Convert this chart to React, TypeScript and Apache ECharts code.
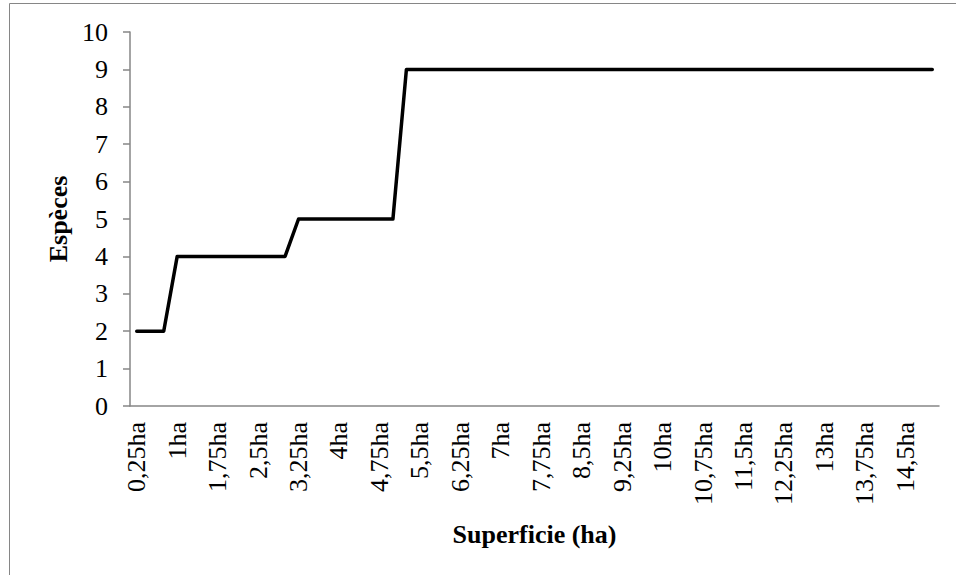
import React, { useEffect, useRef } from "react";
import * as echarts from "echarts";

const categories: string[] = [
  "0,25ha", "0,5ha", "0,75ha", "1ha", "1,25ha", "1,5ha", "1,75ha", "2ha", "2,25ha", "2,5ha",
  "2,75ha", "3ha", "3,25ha", "3,5ha", "3,75ha", "4ha", "4,25ha", "4,5ha", "4,75ha", "5ha",
  "5,25ha", "5,5ha", "5,75ha", "6ha", "6,25ha", "6,5ha", "6,75ha", "7ha", "7,25ha", "7,5ha",
  "7,75ha", "8ha", "8,25ha", "8,5ha", "8,75ha", "9ha", "9,25ha", "9,5ha", "9,75ha", "10ha",
  "10,25ha", "10,5ha", "10,75ha", "11ha", "11,25ha", "11,5ha", "11,75ha", "12ha", "12,25ha", "12,5ha",
  "12,75ha", "13ha", "13,25ha", "13,5ha", "13,75ha", "14ha", "14,25ha", "14,5ha", "14,75ha", "15ha",
];

const especes: number[] = [
  2, 2, 2, 4, 4, 4, 4, 4, 4, 4,
  4, 4, 5, 5, 5, 5, 5, 5, 5, 5,
  9, 9, 9, 9, 9, 9, 9, 9, 9, 9,
  9, 9, 9, 9, 9, 9, 9, 9, 9, 9,
  9, 9, 9, 9, 9, 9, 9, 9, 9, 9,
  9, 9, 9, 9, 9, 9, 9, 9, 9, 9,
];

const yTicks = { min: 0, max: 10, interval: 1 };

const FONT = "Times New Roman, Liberation Serif, serif";
const AXIS_GRAY = "#868686";

export default function App() {
  const ref = useRef<HTMLDivElement>(null);
  useEffect(() => {
    if (!ref.current) return;
    const chart = echarts.init(ref.current, null, { renderer: "svg" });
    chart.setOption({
      animation: false,
      backgroundColor: "#ffffff",
      textStyle: { fontFamily: FONT },
      graphic: [
        {
          type: "rect",
          shape: { x: 9.5, y: 3.5, width: 1000, height: 700 },
          style: { fill: "none", stroke: AXIS_GRAY, lineWidth: 1 },
          silent: true,
        },
      ],
      grid: { left: 130, right: 17, top: 32, bottom: 169, containLabel: false },
      xAxis: {
        type: "category",
        data: categories,
        boundaryGap: true,
        name: "Superficie (ha)",
        nameLocation: "middle",
        nameGap: 115,
        nameTextStyle: { fontFamily: FONT, fontSize: 26, fontWeight: "bold", color: "#000" },
        axisLine: { show: true, lineStyle: { color: AXIS_GRAY, width: 1.5 } },
        axisTick: { show: false },
        axisLabel: {
          interval: 2,
          rotate: 90,
          margin: 16,
          fontFamily: FONT,
          fontSize: 26,
          color: "#000",
        },
        splitLine: { show: false },
      },
      yAxis: {
        type: "value",
        min: yTicks.min,
        max: yTicks.max,
        interval: yTicks.interval,
        name: "Espèces",
        nameLocation: "middle",
        nameGap: 58,
        nameTextStyle: { fontFamily: FONT, fontSize: 26, fontWeight: "bold", color: "#000" },
        axisLine: { show: true, lineStyle: { color: AXIS_GRAY, width: 1.5 } },
        axisTick: { show: true, inside: false, length: 7, lineStyle: { color: AXIS_GRAY, width: 1.5 } },
        axisLabel: { margin: 22, fontFamily: FONT, fontSize: 26, color: "#000" },
        splitLine: { show: false },
      },
      series: [
        {
          type: "line",
          data: especes,
          showSymbol: false,
          symbol: "none",
          lineStyle: { color: "#000", width: 3.5, join: "round", cap: "round" },
        },
      ],
    });
    return () => chart.dispose();
  }, []);
  return (
    <div
      ref={ref}
      style={{ position: "fixed", left: 0, top: 0, width: 956, height: 575, background: "#fff" }}
    />
  );
}
